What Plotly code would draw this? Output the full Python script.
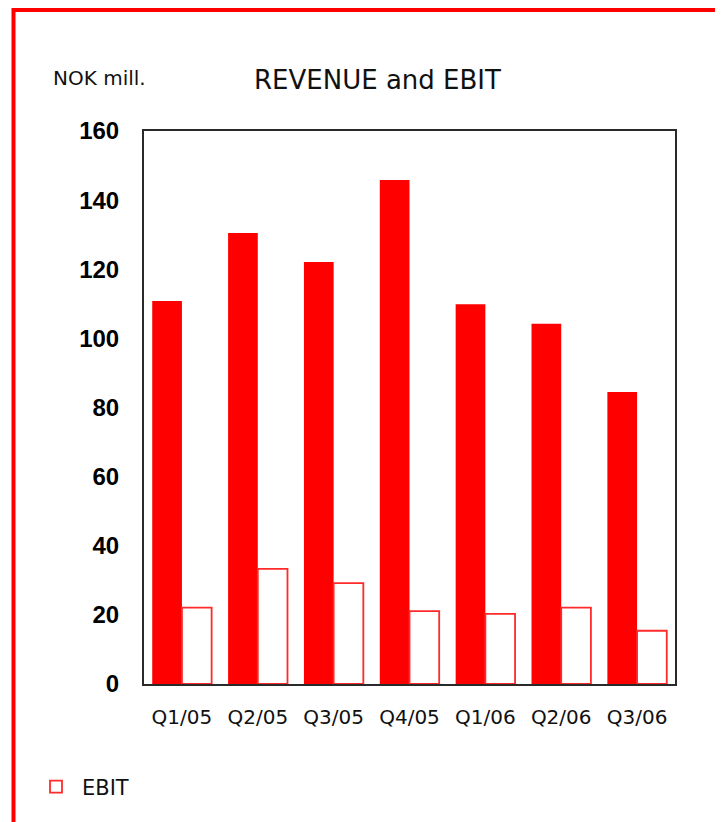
import plotly.graph_objects as go

quarters = ["Q1/05", "Q2/05", "Q3/05", "Q4/05", "Q1/06", "Q2/06", "Q3/06"]
revenue = [110.8, 130.5, 122.1, 145.8, 109.9, 104.2, 84.5]
ebit = [22.1, 33.3, 29.2, 21.1, 20.3, 22.1, 15.4]
y_ticks = [0, 20, 40, 60, 80, 100, 120, 140, 160]

W, H = 723, 822
OFF = 8  # page body margin in the browser
L, R, T, B = 144 - OFF, 675 - OFF, 131 - OFF, 684 - OFF

def px(x):
    return (x - OFF - L) / (R - L)

def py(y):
    return (B - (y - OFF)) / (B - T)

fig = go.Figure()
fig.add_trace(go.Bar(x=quarters, y=revenue, name="REVENUE",
                     marker=dict(color="#ff0000", line=dict(width=0)),
                     showlegend=False))
fig.add_trace(go.Bar(x=quarters, y=ebit, name="EBIT",
                     marker=dict(color="#ffffff", line=dict(color="#ff2a2a", width=1.8))))

fig.update_layout(
    width=W, height=H,
    margin=dict(l=L, r=W - R, t=T, b=H - B, pad=0),
    paper_bgcolor="white", plot_bgcolor="white",
    barmode="group", bargap=0.217, bargroupgap=0,
    showlegend=True,
    legend=dict(x=px(30), y=py(787), xanchor="left", yanchor="middle",
                font=dict(family="DejaVu Sans", size=21, color="#111"),
                bgcolor="rgba(0,0,0,0)", itemwidth=42),
    xaxis=dict(showline=True, linecolor="#2a2a2a", linewidth=2, mirror=True,
               ticks="", showgrid=False, ticklabelstandoff=14,
               tickfont=dict(family="DejaVu Sans", size=20, color="#111")),
    yaxis=dict(range=[0, 160], tickvals=y_ticks, showline=True, linecolor="#2a2a2a",
               linewidth=2, mirror=True, ticks="", showgrid=False, zeroline=False,
               ticklabelstandoff=18,
               tickfont=dict(family="Liberation Sans", size=24, color="#000", weight="bold")),
    shapes=[dict(type="rect", xref="paper", yref="paper",
                 x0=px(13.5), x1=px(760), y0=py(10), y1=py(860),
                 line=dict(color="#ff0000", width=4), fillcolor="rgba(0,0,0,0)")],
    annotations=[
        dict(text="REVENUE and EBIT", xref="paper", yref="paper",
             x=px(377), y=py(80), xanchor="center", yanchor="middle", showarrow=False,
             font=dict(family="DejaVu Sans", size=26, color="#111")),
        dict(text="NOK mill.", xref="paper", yref="paper",
             x=px(51), y=py(78), xanchor="left", yanchor="middle", showarrow=False,
             font=dict(family="DejaVu Sans", size=20, color="#111")),
    ],
)

fig.write_html("out.html")
